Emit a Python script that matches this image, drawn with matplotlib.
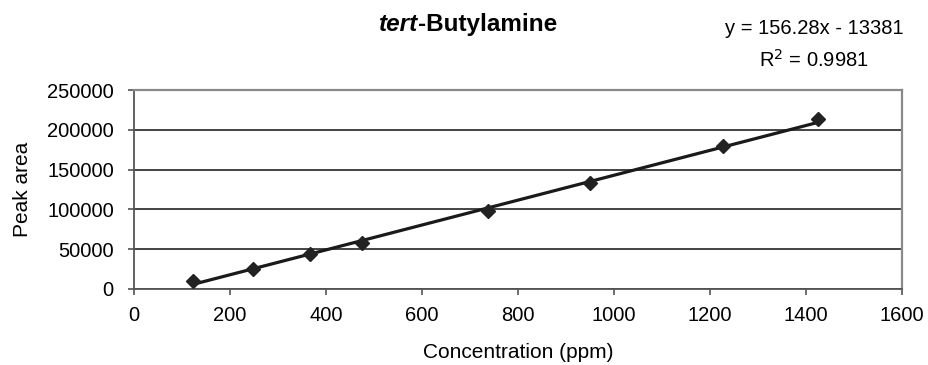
import matplotlib
matplotlib.use("Agg")
import matplotlib.pyplot as plt
import numpy as np

plt.rcParams["font.family"] = ["Liberation Sans", "DejaVu Sans"]

# data
conc_ppm = [123, 247, 367, 476, 737, 950, 1228, 1426]
peak_area = [10500, 25500, 43500, 58000, 98500, 133000, 179500, 213000]
slope = 156.28
intercept = -13381
r2 = 0.9981
x_ticks = [0, 200, 400, 600, 800, 1000, 1200, 1400, 1600]
y_ticks = [0, 50000, 100000, 150000, 200000, 250000]

W, H = 929, 365
fig = plt.figure(figsize=(W / 100, H / 100), dpi=100)
ax = fig.add_axes([134 / W, 1 - 289 / H, 768 / W, 199 / H])

fit_x = np.array([min(conc_ppm), max(conc_ppm)])
ax.plot(fit_x, slope * fit_x + intercept, color="#1a1a1a", lw=2.3, zorder=3)
ax.plot(conc_ppm, peak_area, "D", color="#222222", ms=6.8, zorder=4)

ax.set_xlim(0, 1600)
ax.set_ylim(0, 250000)
ax.set_xticks(x_ticks)
ax.set_yticks(y_ticks)
ax.yaxis.grid(True, color="#111111", lw=1.1)
ax.set_axisbelow(True)
for side in ["top", "right"]:
    ax.spines[side].set_color("#8a8a8a")
    ax.spines[side].set_linewidth(1.6)
for side in ["left", "bottom"]:
    ax.spines[side].set_color("#555555")
    ax.spines[side].set_linewidth(1.3)
ax.tick_params(axis="both", labelsize=14.5, color="#444444", length=4.5, width=1.1)
ax.tick_params(axis="x", pad=8)
ax.tick_params(axis="y", pad=10)

ax.set_xlabel("Concentration (ppm)", fontsize=15)
ax.set_ylabel("Peak area", fontsize=15)
ax.xaxis.label.set_va("center")
ax.yaxis.label.set_va("center")
ax.xaxis.set_label_coords(0.5, (289 - 352) / 199)
ax.yaxis.set_label_coords((23 - 134) / 768, 0.5)

# title: "tert" in bold italic, rest bold, centred as one string
renderer = fig.canvas.get_renderer()
title_y = 1 - 31 / H
t1 = fig.text(0, title_y, "tert", fontsize=17.5, fontweight="bold",
              fontstyle="italic", va="baseline")
t2 = fig.text(0, title_y, "-Butylamine", fontsize=17.5, fontweight="bold",
              va="baseline")
w1 = t1.get_window_extent(renderer).width
w2 = t2.get_window_extent(renderer).width
x_start = 468 - (w1 + w2) / 2
t1.set_x(x_start / W)
t2.set_x((x_start + w1) / W)

fig.text(814 / W, 1 - 34 / H, f"y = {slope}x - {abs(intercept)}",
         fontsize=14.5, ha="center", va="baseline")
fig.text(814 / W, 1 - 66.5 / H, f"R$^2$ = {r2}",
         fontsize=14.5, ha="center", va="baseline")

fig.savefig("out.png", dpi=100)
plt.close(fig)
